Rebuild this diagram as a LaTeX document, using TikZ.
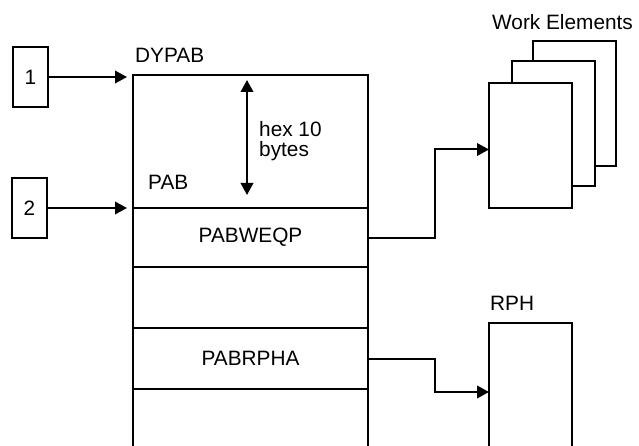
\documentclass[tikz,border=0pt]{standalone}
\usepackage{fontspec}
\setmainfont{Liberation Sans}
\usetikzlibrary{arrows.meta,positioning}
\tikzset{
  field/.style={draw, line width=2pt, minimum width=235pt, inner sep=0pt, outer sep=0pt, anchor=north west},
  slip/.style={draw, line width=2pt, fill=white, minimum width=35pt, minimum height=60pt, inner sep=0pt, outer sep=0pt, anchor=north west},
  elem/.style={draw, line width=2pt, fill=white, minimum width=83pt, minimum height=125pt, inner sep=0pt, outer sep=0pt, anchor=north west},
  tag/.style={inner sep=0pt, anchor=west},
  ptr/.style={line width=2pt, -{Triangle[length=12pt,width=12.5pt]}},
}
\begin{document}
\begin{tikzpicture}[x=1pt, y=-1pt, font=\fontsize{20.8}{20}\selectfont]
    \clip (0,0) rectangle (639,446);
    % the DYPAB block, open at the bottom
    \node[field, minimum height=133pt] (hdr) at (133,75) {};
    \node[field, minimum height=59pt] (weqp) at (133,208) {PABWEQP};
    \node[field, minimum height=61pt] (blank) at (133,267) {};
    \node[field, minimum height=61pt] (rpha) at (133,328) {PABRPHA};
    \node[field, minimum height=72pt] (rest) at (133,389) {};
    \node[tag] (dypab) at (135,55) {DYPAB};
    \node[tag] (pab) at (148,182) {PAB};
    % hex 10 bytes between DYPAB and PAB
    \coordinate (sztop) at (247,80);
    \coordinate (szbot) at (247,195);
    \draw[line width=2pt, {Triangle[length=12pt,width=12.5pt]}-{Triangle[length=12pt,width=12.5pt]}] (sztop) -- (szbot);
    \node[tag, align=left] (hex) at (259,141) {hex 10\\bytes};
    % pointers 1 and 2
    \node[slip] (one) at (13,47) {1};
    \node[slip] (two) at (12,178) {2};
    \draw[ptr, shorten >=6pt] (one.east) -- (one.east -| hdr.west);
    \draw[ptr, shorten >=6pt] (two.east) -- (two.east -| weqp.west);
    % work elements
    \node[elem] (we3) at (533,41) {};
    \node[elem] (we2) at (512,61) {};
    \node[elem] (we1) at (489,83) {};
    \node[tag] (wetitle) at (492,22) {Work Elements};
    \draw[ptr] (weqp.east) -- ++(67,0) |- ([yshift=-4pt]we1.west);
    % RPH
    \node[elem, minimum height=138pt] (rph) at (489,323) {};
    \node[tag] (rphtitle) at (490,303) {RPH};
    \draw[ptr] (rpha.east) -- ++(67,0) |- (rph.west);
\end{tikzpicture}
\end{document}
